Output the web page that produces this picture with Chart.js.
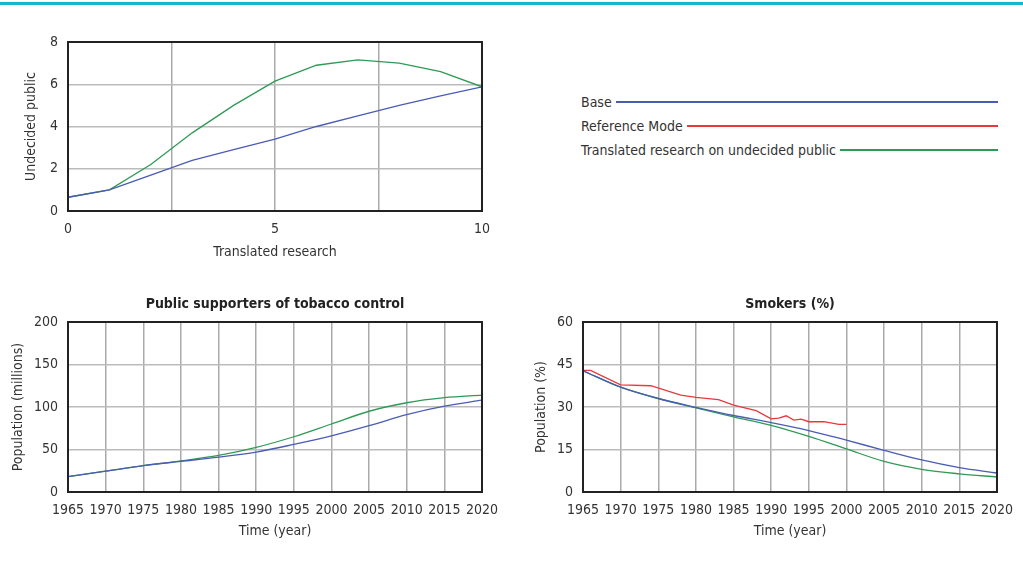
<!DOCTYPE html>
<html>
<head>
<meta charset="utf-8">
<script src="https://cdn.jsdelivr.net/npm/chart.js@4.4.0/dist/chart.umd.min.js"></script>
<style>
  body { margin: 0; width: 1023px; height: 570px; overflow: hidden; background: #fff; position: relative;
         font-family: 'Liberation Sans Narrow', 'Arial Narrow', 'DejaVu Sans Condensed', sans-serif; }
  .topline { position: absolute; left: 0; top: 2px; width: 1023px; height: 3px; background: #18b4d2; }
  canvas { position: absolute; }
  #legend { position: absolute; left: 581px; top: 90px; width: 417px; font-size: 14px; color: #333; }
  #legend .row { display: flex; align-items: center; height: 24px; }
  #legend .ln { flex: 1; height: 1.5px; margin-left: 4px; }
</style>
</head>
<body>
<div class="topline"></div>
<canvas id="research" width="500" height="250" style="left:0;top:20px"></canvas>
<canvas id="supporters" width="510" height="280" style="left:0;top:280px"></canvas>
<canvas id="smokers" width="508" height="280" style="left:515px;top:280px"></canvas>
<div id="legend"></div>
<script>
// series names and colours
const seriesNames = ['Base', 'Reference Mode', 'Translated research on undecided public'];
const seriesColors = ['#4a5cb4', '#e8383c', '#2f9a55'];

// top chart: undecided public vs translated research
const researchSteps = [0, 1, 2, 3, 4, 5, 6, 7, 8, 9, 10];
const undecidedBase = [0.65, 1.0, 1.7, 2.4, 2.9, 3.4, 4.0, 4.5, 5.0, 5.45, 5.88];
const undecidedTranslated = [0.65, 1.0, 2.2, 3.7, 5.0, 6.15, 6.9, 7.15, 7.0, 6.6, 5.88];

// bottom charts: every 5 years
const years = [1965, 1970, 1975, 1980, 1985, 1990, 1995, 2000, 2005, 2010, 2015, 2020];
const supportersBase = [18, 24.5, 31, 36, 41, 47, 56, 66, 78, 91, 101, 108];
const supportersTranslated = [18, 24.5, 31, 36.5, 43, 52.5, 65, 80, 95, 105, 111, 114];
const smokersBase = [42.8, 37, 33, 29.9, 27, 24.5, 21.7, 18.3, 14.7, 11.3, 8.6, 6.7];
const smokersTranslated = [42.8, 37, 33, 29.7, 26.5, 23.5, 19.6, 15.2, 10.8, 8.0, 6.4, 5.3];

// reference mode (observed smokers %)
const refYears = [1965, 1966, 1970, 1974, 1978, 1980, 1983, 1985, 1988, 1990, 1991, 1992, 1993, 1994, 1995, 1997, 1999, 2000];
const refSmokers = [42.9, 42.9, 37.8, 37.5, 34.2, 33.4, 32.6, 30.7, 28.7, 25.8, 26.1, 26.9, 25.4, 25.7, 24.8, 24.8, 23.9, 23.9];

const FONT = "'Liberation Sans Narrow', 'Arial Narrow', 'DejaVu Sans Condensed', sans-serif";
Chart.defaults.font.family = FONT;
Chart.defaults.color = '#333';

// legend
const legend = document.getElementById('legend');
seriesNames.forEach(function(name, i) {
    const row = document.createElement('div');
    row.className = 'row';
    row.innerHTML = '<span>' + name + '</span><div class="ln" style="background:' + seriesColors[i] + '"></div>';
    legend.appendChild(row);
});

// black frame round the plot area
const frame = {
    id: 'frame',
    afterDraw(chart) {
        const a = chart.chartArea, ctx = chart.ctx;
        ctx.save();
        ctx.strokeStyle = '#222';
        ctx.lineWidth = 2;
        ctx.strokeRect(a.left, a.top, a.right - a.left, a.bottom - a.top);
        ctx.restore();
    }
};

function pts(xs, ys) {
    return xs.map((x, i) => ({ x: x, y: ys[i] }));
}

function line(label, data, color, smooth) {
    return {
        label: label, data: data, borderColor: color, borderWidth: 1.3,
        pointRadius: 0, fill: false,
        tension: smooth ? 0.4 : 0, cubicInterpolationMode: smooth ? 'monotone' : 'default'
    };
}

function axes(o) {
    return {
        x: {
            type: 'linear', min: o.xmin, max: o.xmax,
            afterFit: s => { s.height = o.xh; },
            grid: { color: '#aaa', lineWidth: 1.5, drawTicks: false },
            border: { display: false },
            ticks: { stepSize: o.xstep, padding: 10, autoSkip: false, maxRotation: 0,
                     font: { size: 14 }, callback: o.xcb },
            title: { display: true, text: o.xtitle, font: { size: 14 },
                     padding: { top: 0, bottom: o.xtpb } }
        },
        y: {
            min: o.ymin, max: o.ymax,
            afterFit: s => { s.width = 68; },
            grid: { color: '#bbb', lineWidth: 1.5, drawTicks: false },
            border: { display: false },
            ticks: { stepSize: o.ystep, padding: 10, font: { size: 14 } },
            title: { display: true, text: o.ytitle, font: { size: 14 },
                     padding: { top: o.ytpt, bottom: 0 } }
        }
    };
}

const titleStyle = { color: '#222', font: { size: 14, weight: 'bold' }, padding: { top: 16, bottom: 9.2 } };

new Chart(document.getElementById('research'), {
    type: 'line',
    data: {
        datasets: [
            line(seriesNames[0], pts(researchSteps, undecidedBase), seriesColors[0], false),
            line(seriesNames[2], pts(researchSteps, undecidedTranslated), seriesColors[2], false)
        ]
    },
    options: {
        responsive: false, animation: false,
        layout: { padding: { top: 22, right: 18, left: 0, bottom: 0 } },
        plugins: { legend: { display: false }, tooltip: { enabled: false } },
        scales: axes({
            xmin: 0, xmax: 10, xstep: 2.5, xh: 59, xtpb: 9.6,
            xcb: v => (v % 5 === 0 ? String(v) : ''),
            xtitle: 'Translated research',
            ymin: 0, ymax: 8, ystep: 2, ytitle: 'Undecided public', ytpt: 23
        })
    },
    plugins: [frame]
});

new Chart(document.getElementById('supporters'), {
    type: 'line',
    data: {
        datasets: [
            line(seriesNames[0], pts(years, supportersBase), seriesColors[0], true),
            line(seriesNames[2], pts(years, supportersTranslated), seriesColors[2], true)
        ]
    },
    options: {
        responsive: false, animation: false,
        layout: { padding: { top: 0, right: 28, left: 0, bottom: 0 } },
        plugins: {
            legend: { display: false }, tooltip: { enabled: false },
            title: Object.assign({ display: true, text: 'Public supporters of tobacco control', fullSize: false }, titleStyle)
        },
        scales: axes({
            xmin: 1965, xmax: 2020, xstep: 5, xh: 68, xtpb: 20,
            xcb: v => String(v), xtitle: 'Time (year)',
            ymin: 0, ymax: 200, ystep: 50, ytitle: 'Population (millions)', ytpt: 10
        })
    },
    plugins: [frame]
});

new Chart(document.getElementById('smokers'), {
    type: 'line',
    data: {
        datasets: [
            line(seriesNames[0], pts(years, smokersBase), seriesColors[0], true),
            line(seriesNames[2], pts(years, smokersTranslated), seriesColors[2], true),
            line(seriesNames[1], pts(refYears, refSmokers), seriesColors[1], false)
        ]
    },
    options: {
        responsive: false, animation: false,
        layout: { padding: { top: 0, right: 25, left: 0, bottom: 0 } },
        plugins: {
            legend: { display: false }, tooltip: { enabled: false },
            title: Object.assign({ display: true, text: 'Smokers (%)', fullSize: false }, titleStyle)
        },
        scales: axes({
            xmin: 1965, xmax: 2020, xstep: 5, xh: 68, xtpb: 20,
            xcb: v => String(v), xtitle: 'Time (year)',
            ymin: 0, ymax: 60, ystep: 15, ytitle: 'Population (%)', ytpt: 17.6
        })
    },
    plugins: [frame]
});
</script>
</body>
</html>
